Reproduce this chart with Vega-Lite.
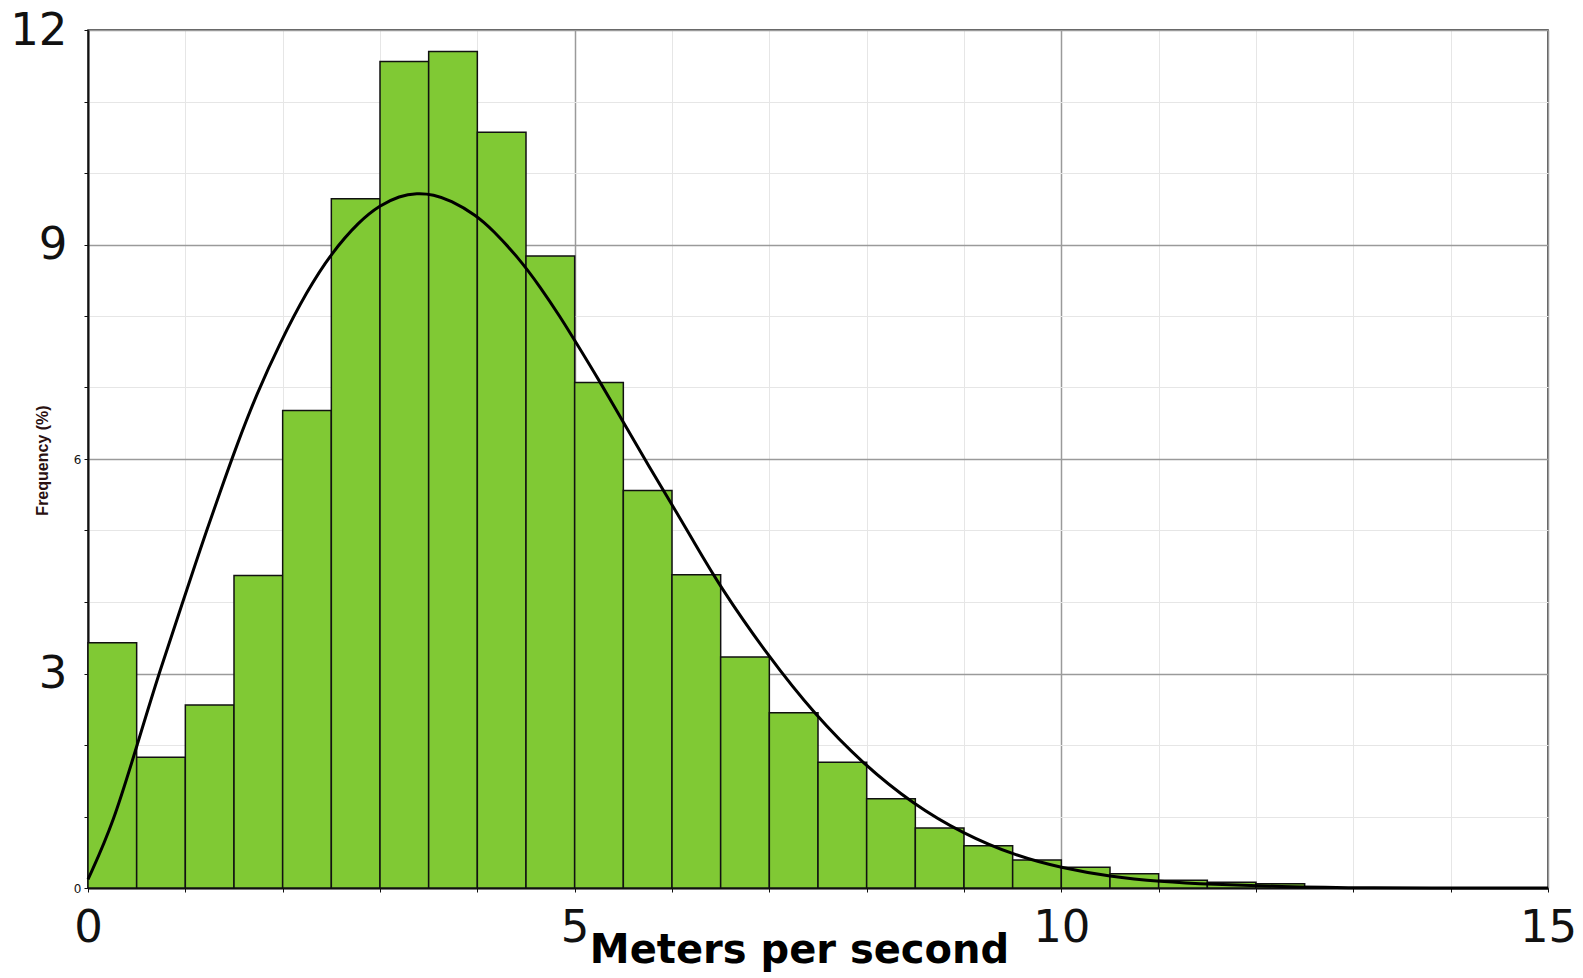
{
  "$schema": "https://vega.github.io/schema/vega-lite/v6.json",
  "width": 1460,
  "height": 858,
  "autosize": {"type": "none"},
  "padding": {"left": 88, "top": 30, "right": 35, "bottom": 90},
  "background": "white",
  "config": {
    "view": {"stroke": "#222", "strokeWidth": 1.5},
    "font": "DejaVu Sans"
  },
  "datasets": {
    "bins": [
      {"speed": 0, "speed_end": 0.5, "freq": 3.43},
      {"speed": 0.5, "speed_end": 1, "freq": 1.83},
      {"speed": 1, "speed_end": 1.5, "freq": 2.56},
      {"speed": 1.5, "speed_end": 2, "freq": 4.37},
      {"speed": 2, "speed_end": 2.5, "freq": 6.68},
      {"speed": 2.5, "speed_end": 3, "freq": 9.64},
      {"speed": 3, "speed_end": 3.5, "freq": 11.56},
      {"speed": 3.5, "speed_end": 4, "freq": 11.70},
      {"speed": 4, "speed_end": 4.5, "freq": 10.57},
      {"speed": 4.5, "speed_end": 5, "freq": 8.84},
      {"speed": 5, "speed_end": 5.5, "freq": 7.07},
      {"speed": 5.5, "speed_end": 6, "freq": 5.56},
      {"speed": 6, "speed_end": 6.5, "freq": 4.38},
      {"speed": 6.5, "speed_end": 7, "freq": 3.23},
      {"speed": 7, "speed_end": 7.5, "freq": 2.45},
      {"speed": 7.5, "speed_end": 8, "freq": 1.76},
      {"speed": 8, "speed_end": 8.5, "freq": 1.25},
      {"speed": 8.5, "speed_end": 9, "freq": 0.84},
      {"speed": 9, "speed_end": 9.5, "freq": 0.59},
      {"speed": 9.5, "speed_end": 10, "freq": 0.39},
      {"speed": 10, "speed_end": 10.5, "freq": 0.29},
      {"speed": 10.5, "speed_end": 11, "freq": 0.20},
      {"speed": 11, "speed_end": 11.5, "freq": 0.11},
      {"speed": 11.5, "speed_end": 12, "freq": 0.08},
      {"speed": 12, "speed_end": 12.5, "freq": 0.06}
    ],
    "curve": [
      {"speed": 0.0, "freq": 0.12},
      {"speed": 0.26, "freq": 0.9},
      {"speed": 0.52, "freq": 2.07},
      {"speed": 0.74, "freq": 3.05},
      {"speed": 0.97, "freq": 3.98},
      {"speed": 1.15, "freq": 4.73},
      {"speed": 1.36, "freq": 5.55},
      {"speed": 1.53, "freq": 6.2},
      {"speed": 1.73, "freq": 6.9},
      {"speed": 1.97, "freq": 7.62},
      {"speed": 2.25, "freq": 8.35},
      {"speed": 2.5, "freq": 8.88},
      {"speed": 2.79, "freq": 9.33},
      {"speed": 3.0, "freq": 9.55},
      {"speed": 3.2, "freq": 9.68},
      {"speed": 3.38, "freq": 9.72},
      {"speed": 3.55, "freq": 9.7},
      {"speed": 3.72, "freq": 9.62},
      {"speed": 3.99, "freq": 9.41},
      {"speed": 4.16, "freq": 9.2},
      {"speed": 4.42, "freq": 8.82},
      {"speed": 4.65, "freq": 8.4},
      {"speed": 4.85, "freq": 7.99},
      {"speed": 5.0, "freq": 7.66},
      {"speed": 5.26, "freq": 7.08},
      {"speed": 5.52, "freq": 6.47},
      {"speed": 5.77, "freq": 5.88},
      {"speed": 6.0, "freq": 5.36},
      {"speed": 6.2, "freq": 4.9},
      {"speed": 6.49, "freq": 4.22},
      {"speed": 6.99, "freq": 3.24},
      {"speed": 7.47, "freq": 2.42},
      {"speed": 7.96, "freq": 1.74},
      {"speed": 8.48, "freq": 1.17},
      {"speed": 8.99, "freq": 0.76},
      {"speed": 9.51, "freq": 0.46},
      {"speed": 10.0, "freq": 0.28},
      {"speed": 10.5, "freq": 0.16},
      {"speed": 11.01, "freq": 0.09},
      {"speed": 11.56, "freq": 0.05},
      {"speed": 12.25, "freq": 0.02},
      {"speed": 13.0, "freq": 0.0},
      {"speed": 15.0, "freq": 0.0}
    ]
  },
  "encoding": {
    "x": {
      "field": "speed", "type": "quantitative",
      "scale": {"domain": [0, 15], "nice": false, "zero": false},
      "title": "Meters per second",
      "axis": {
        "values": [0,1,2,3,4,5,6,7,8,9,10,11,12,13,14,15],
        "labelExpr": "datum.value % 5 == 0 ? datum.label : ''",
        "labelFont": "DejaVu Sans",
        "labelFontSize": 45,
        "labelColor": "#111",
        "labelPadding": 13,
        "labelFlush": false,
        "labelOverlap": false,
        "domainColor": "#111",
        "domainWidth": 2,
        "tickColor": "#111",
        "tickSize": 4,
        "grid": true,
        "gridColor": {"condition": {"test": "datum.value % 5 == 0", "value": "#9a9a9a"}, "value": "#e6e6e6"},
        "gridWidth": {"condition": {"test": "datum.value % 5 == 0", "value": 1.5}, "value": 1},
        "titleFont": "DejaVu Sans",
        "titleFontSize": 40,
        "titleFontWeight": "bold",
        "titleColor": "#000",
        "titleX": 711,
        "titleY": 74,
        "titleBaseline": "alphabetic"
      }
    },
    "y": {
      "field": "freq", "type": "quantitative",
      "scale": {"domain": [0, 12], "nice": false},
      "title": "Frequency (%)",
      "axis": {
        "values": [0,1,2,3,4,5,6,7,8,9,10,11,12],
        "labelExpr": "datum.value % 3 == 0 ? datum.label : ''",
        "labelFont": "DejaVu Sans",
        "labelFontSize": {"condition": {"test": "datum.value == 0 || datum.value == 6", "value": 12}, "value": 45},
        "labelPadding": {"condition": {"test": "datum.value == 0 || datum.value == 6", "value": 3}, "value": 17},
        "labelColor": "#111",
        "labelOverlap": false,
        "labelFlush": false,
        "domainColor": "#111",
        "domainWidth": 2,
        "tickColor": "#111",
        "tickSize": 4,
        "grid": true,
        "gridColor": {"condition": {"test": "datum.value % 3 == 0", "value": "#9a9a9a"}, "value": "#e6e6e6"},
        "gridWidth": {"condition": {"test": "datum.value % 3 == 0", "value": 1.5}, "value": 1},
        "titleFont": "Liberation Sans",
        "titleFontSize": 16,
        "titleFontWeight": "bold",
        "titleColor": "#2a1010",
        "titleX": -46,
        "titleY": 430,
        "titleBaseline": "middle",
        "titleAngle": -90
      }
    }
  },
  "layer": [
    {
      "data": {"name": "bins"},
      "mark": {"type": "rect", "fill": "#80c934", "stroke": "#111", "strokeWidth": 1.5, "opacity": 1},
      "encoding": {
        "x2": {"field": "speed_end"},
        "y2": {"datum": 0}
      }
    },
    {
      "data": {"name": "curve"},
      "mark": {"type": "line", "color": "#000", "strokeWidth": 3, "interpolate": "basis"}
    }
  ]
}
